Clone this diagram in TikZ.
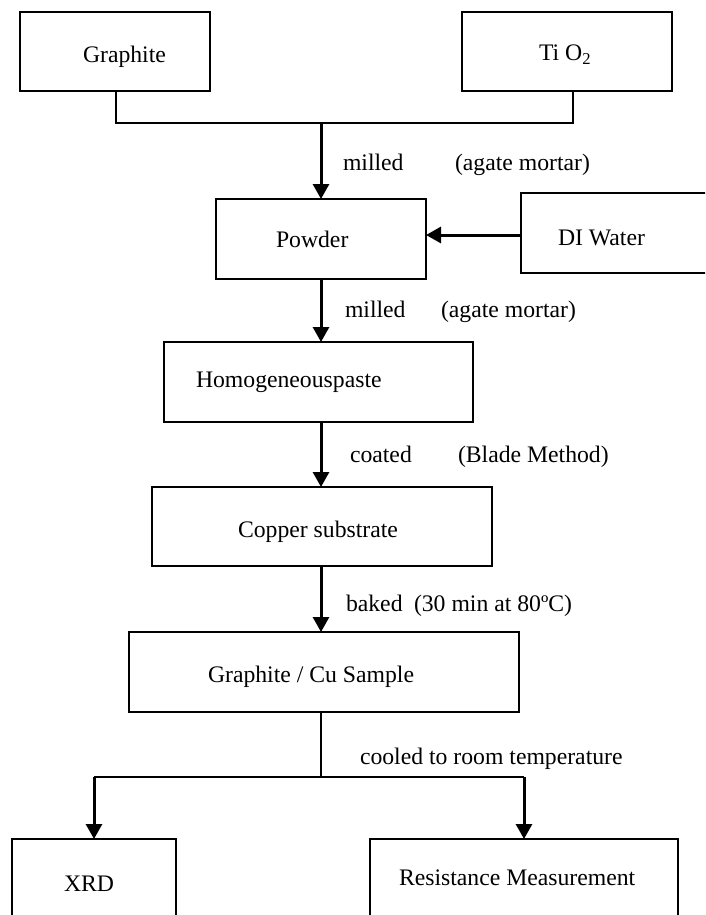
\documentclass[tikz,border=0pt]{standalone}
\usepackage{fontspec}
\setmainfont{Liberation Serif}
\usetikzlibrary{arrows.meta,calc}
\begin{document}
\begin{tikzpicture}[x=1pt,y=-1pt,
  font=\fontsize{23.7}{28}\selectfont,
  box/.style={draw,line width=2pt,inner sep=0pt,outer sep=0pt},
  txt/.style={anchor=base west,inner sep=0pt,outer sep=0pt},
  thinline/.style={line width=1.9pt},
  arr/.style={line width=3pt,-{Triangle[length=15pt,width=16pt]}}]
\useasboundingbox (0,0) rectangle (705,915);
\clip (0,0) rectangle (705,915);

% boxes
\node[box,minimum width=190pt,minimum height=79pt] (gr) at (115,51.5) {};
\node[box,minimum width=210pt,minimum height=79pt] (ti) at (567,51.5) {};
\node[box,minimum width=210pt,minimum height=80pt] (pw) at (321,239) {};
\node[box,minimum width=192pt,minimum height=80pt] (di) at (617,233) {};
\node[box,minimum width=309pt,minimum height=80pt] (hp) at (318.5,382) {};
\node[box,minimum width=340pt,minimum height=79pt] (cs) at (322,526.5) {};
\node[box,minimum width=390pt,minimum height=80pt] (gc) at (324,672) {};
\node[box,minimum width=164pt,minimum height=101pt] (xrd) at (94,889.5) {};
\node[box,minimum width=308pt,minimum height=101pt] (rm) at (524,889.5) {};

% box texts
\node[txt] (grt) at (83,63) {Graphite};
\node[txt] (tit) at (539,61) {Ti O\textsubscript{2}};
\node[txt] (pwt) at (276,247) {Powder};
\node[txt] (dit) at (558,245) {DI Water};
\node[txt] (hpt) at (196,387) {Homogeneouspaste};
\node[txt] (cst) at (238,537) {Copper substrate};
\node[txt] (gct) at (208,682) {Graphite / Cu Sample};
\node[txt] (xrdt) at (64,891) {XRD};
\node[txt] (rmt) at (399,885) {Resistance Measurement};

% connector labels
\node[txt] (m1) at (343,170) {milled};
\node[txt] (a1) at (455,170) {(agate mortar)};
\node[txt] (m2) at (345,317) {milled};
\node[txt] (a2) at (441,317) {(agate mortar)};
\node[txt] (c1) at (350,462) {coated};
\node[txt] (b1) at (458,462) {(Blade Method)};
\node[txt] (k1) at (346,611) {baked};
\node[txt] (k2) at (414,611) {(30 min at 80ºC)};
\node[txt] (cool) at (360,764) {cooled to room temperature};

% junctions
\coordinate (j1) at (321,123);
\coordinate (j2) at (321,777);

% connectors
\draw[thinline] ($(gr.south)+(1,0)$) |- (j1) -| ($(ti.south)+(6,0)$);
\draw[arr] (j1) -- (pw.north);
\draw[arr] ($(di.west)+(0,2)$) -- ($(pw.east)+(0,-4)$);
\draw[arr] (pw.south) -- (pw.south |- hp.north);
\draw[arr] (pw.south |- hp.south) -- (pw.south |- cs.north);
\draw[arr] (pw.south |- cs.south) -- (pw.south |- gc.north);
\draw[thinline] (pw.south |- gc.south) -- (j2);
\draw[thinline] (xrd.north |- j2) -- (rm.north |- j2);
\draw[arr] (xrd.north |- j2) -- (xrd.north);
\draw[arr] (rm.north |- j2) -- (rm.north);
\end{tikzpicture}
\end{document}
